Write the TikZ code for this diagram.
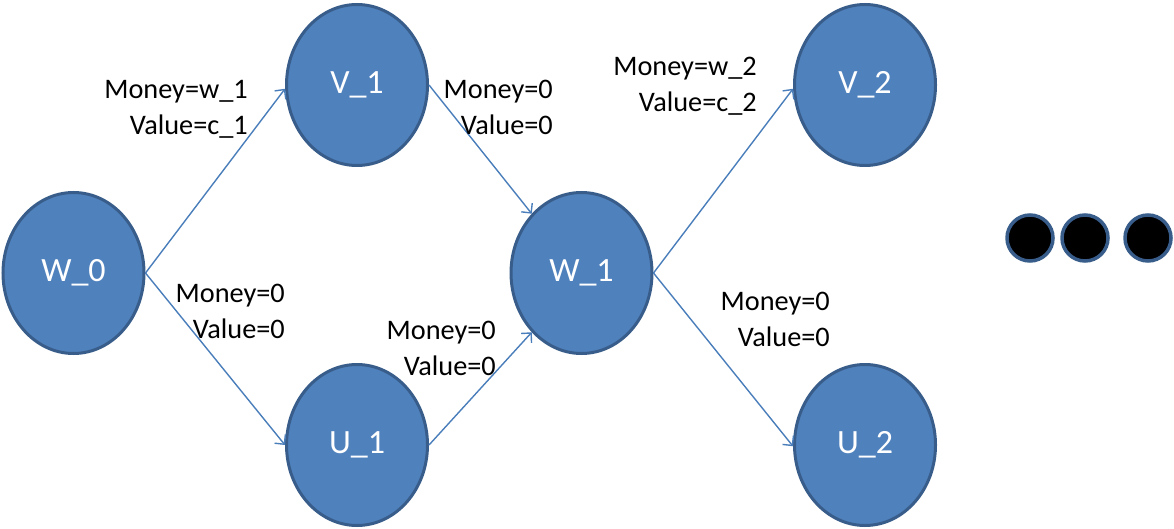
\documentclass[tikz,border=0pt]{standalone}
\usepackage{fontspec}
\setmainfont{Carlito}
\usetikzlibrary{shapes.geometric,arrows.meta}
\definecolor{nodefill}{HTML}{4F81BD}
\definecolor{nodeline}{HTML}{385D8A}
\definecolor{edgecol}{HTML}{4A7EBB}
\tikzset{
  state/.style={ellipse, draw=nodeline, fill=nodefill, line width=3pt, inner sep=0pt,
    minimum width=141pt, minimum height=161pt, text=white,
    font=\fontsize{34}{40}\selectfont},
  dotnode/.style={circle, draw=nodeline, fill=black, line width=3.5pt, inner sep=0pt,
    minimum size=46pt},
  edge/.style={draw=edgecol, line width=1.4pt, -{Straight Barb[length=7pt,width=14pt,line width=1.4pt]}},
  lbl/.style={anchor=east, align=right, inner sep=0pt,
    font=\fontsize{28.3}{36}\selectfont}
}
\begin{document}
\begin{tikzpicture}[x=1pt,y=-1pt]
\useasboundingbox (0,0) rectangle (1174,529);
\node[state] (W0) at (73.5,273) {W\_0};
\node[state] (V1) at (357,85) {V\_1};
\node[state] (U1) at (357,445) {U\_1};
\node[state] (W1) at (581.5,273) {W\_1};
\node[state] (V2) at (865,85) {V\_2};
\node[state] (U2) at (865,445) {U\_2};
\node[dotnode] (d1) at (1030,238) {};
\node[dotnode] (d2) at (1085,238) {};
\node[dotnode] (d3) at (1148,238) {};
\draw[edge] (W0.east) -- (V1.183);
\draw[edge] (W0.east) -- (U1.180);
\draw[edge] (V1.east) -- (W1.130);
\draw[edge] (U1.east) -- (W1.230);
\draw[edge] (W1.east) -- (V2.183);
\draw[edge] (W1.east) -- (U2.181);
\node[lbl] (l1) at (248,109) {Money=w\_1\\Value=c\_1};
\node[lbl] (l2) at (285,311) {Money=0\\Value=0};
\node[lbl] (l3) at (553,107) {Money=0\\Value=0};
\node[lbl] (l4) at (496,348) {Money=0\\Value=0};
\node[lbl] (l5) at (757,86) {Money=w\_2\\Value=c\_2};
\node[lbl] (l6) at (830,319) {Money=0\\Value=0};
\end{tikzpicture}
\end{document}
